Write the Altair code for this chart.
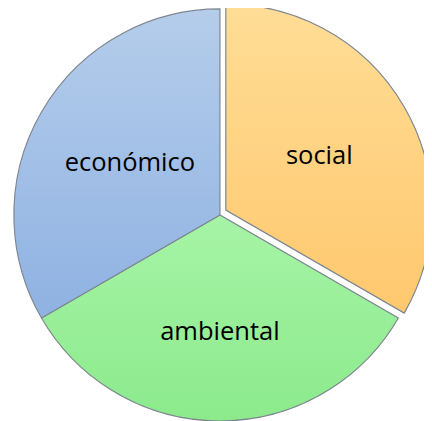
import altair as alt
import pandas as pd

categories = ["social", "ambiental", "económico"]
values = [1, 1, 1]
order = [0, 1, 2]

df = pd.DataFrame({"cat": categories, "value": values, "ord": order})

base = alt.Chart(df)

def grad(top, bottom):
    return alt.LinearGradient(
        gradient="linear",
        stops=[alt.GradientStop(color=top, offset=0), alt.GradientStop(color=bottom, offset=1)],
        x1=0, x2=0, y1=0, y2=1,
    )

fills = {
    "social": grad("#FFDD96", "#FFC86E"),
    "ambiental": grad("#A6F4A6", "#8CEA8C"),
    "económico": grad("#B5CDEB", "#8FB2E2"),
}
centers = {
    "social": (222, 202),
    "ambiental": (216, 207),
    "económico": (216, 207),
}
label_r = {"social": 110, "ambiental": 119, "económico": 106}

layers = []
for c in categories:
    cx, cy = centers[c]
    layers.append(
        base.mark_arc(outerRadius=210, fill=fills[c], stroke="#7d8690", strokeWidth=1.2)
        .encode(
            theta=alt.Theta("value:Q", stack=True),
            order=alt.Order("ord:Q"),
            x=alt.value(cx),
            y=alt.value(cy),
            opacity=alt.condition(alt.datum.cat == c, alt.value(1), alt.value(0)),
        )
    )
for c in categories:
    cx, cy = centers[c]
    layers.append(
        base.mark_text(radius=label_r[c], font="Open Sans", fontSize=26, color="#000000")
        .encode(
            theta=alt.Theta("value:Q", stack=True),
            order=alt.Order("ord:Q"),
            text="cat:N",
            x=alt.value(cx),
            y=alt.value(cy),
            opacity=alt.condition(alt.datum.cat == c, alt.value(1), alt.value(0)),
        )
    )

chart = (
    alt.layer(*layers)
    .properties(width=424, height=413, padding=0, autosize="none")
    .configure_view(stroke=None)
)

chart.save("out.html", embed_options={"renderer": "svg", "actions": False})
